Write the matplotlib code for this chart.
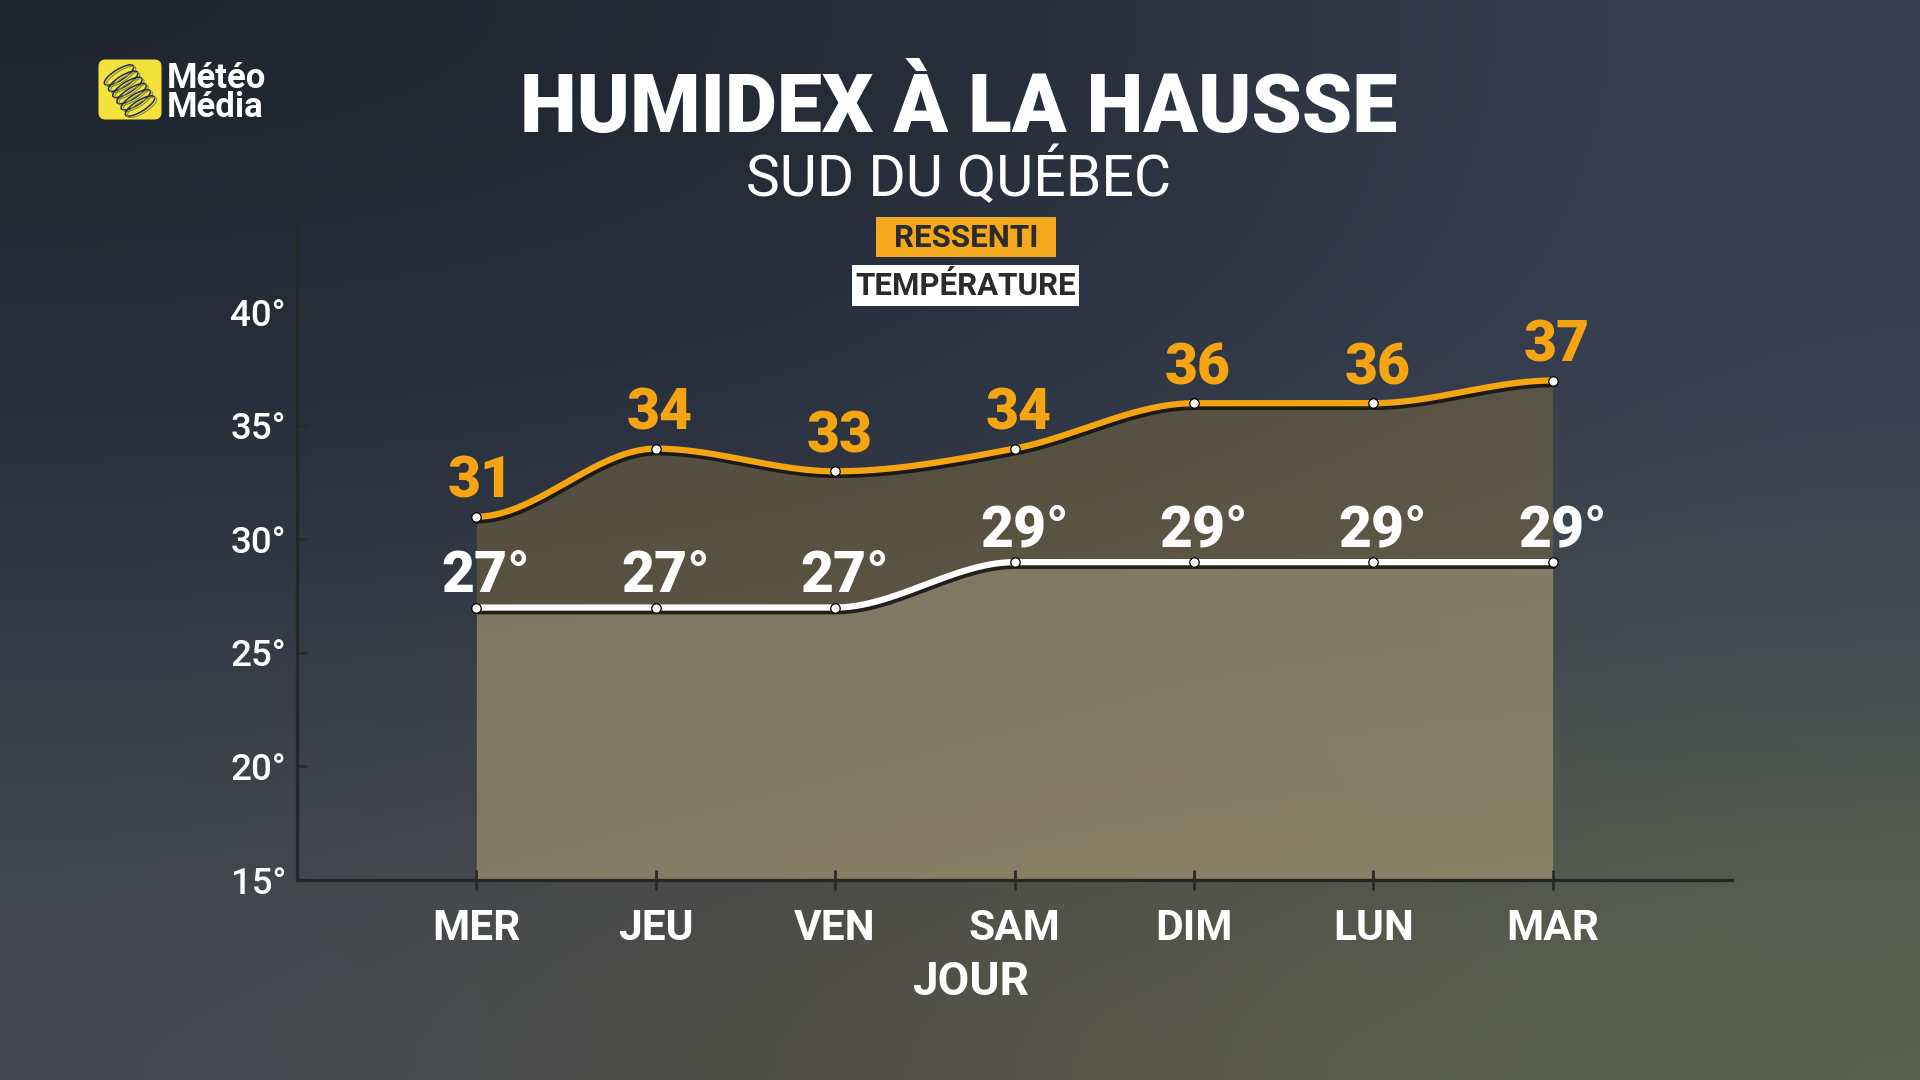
import numpy as np
import matplotlib
matplotlib.use("Agg")
import matplotlib.pyplot as plt
import matplotlib.patheffects as pe
from matplotlib.patches import FancyBboxPatch, Ellipse, Rectangle
from matplotlib.colors import to_rgb

plt.rcParams['font.family'] = ['Roboto', 'DejaVu Sans']

# ---------------- data ----------------
days = ["MER", "JEU", "VEN", "SAM", "DIM", "LUN", "MAR"]
ressenti = [31, 34, 33, 34, 36, 36, 37]
temperature = [27, 27, 27, 29, 29, 29, 29]
y_ticks = [15, 20, 25, 30, 35, 40]
y_tick_labels = ["15°", "20°", "25°", "30°", "35°", "40°"]
title = "HUMIDEX À LA HAUSSE"
subtitle = "SUD DU QUÉBEC"
legend_labels = ["RESSENTI", "TEMPÉRATURE"]
x_label = "JOUR"
brand = "Météo\nMédia"

ORANGE = "#f5a511"
W, H = 1920, 1080


def mono_slopes(y):
    y = np.asarray(y, float)
    n = len(y)
    t = np.zeros(n)
    for i in range(1, n - 1):
        s0 = y[i] - y[i - 1]
        s1 = y[i + 1] - y[i]
        p = (s0 + s1) / 2
        t[i] = (np.sign(s0) + np.sign(s1)) * min(abs(s0), abs(s1), 0.5 * abs(p))
    return t


def smooth(y, per=60):
    y = np.asarray(y, float)
    t = mono_slopes(y)
    xs, ys = [], []
    for i in range(len(y) - 1):
        u = np.linspace(0, 1, per, endpoint=(i == len(y) - 2))
        h00 = 2 * u**3 - 3 * u**2 + 1
        h10 = u**3 - 2 * u**2 + u
        h01 = -2 * u**3 + 3 * u**2
        h11 = u**3 - u**2
        xs.append(i + u)
        ys.append(h00 * y[i] + h10 * t[i] + h01 * y[i + 1] + h11 * t[i + 1])
    return np.concatenate(xs), np.concatenate(ys)


fig = plt.figure(figsize=(W / 100, H / 100), dpi=100)

# ---------------- background ----------------
grid = [["#20262f", "#242a36", "#384050"],
        ["#2c3444", "#303848", "#3a4354"],
        ["#464a50", "#575345", "#5c624e"]]
bg = np.array([[to_rgb(c) for c in row] for row in grid])
bgax = fig.add_axes([0, 0, 1, 1], zorder=-10)
bgax.imshow(bg, extent=[0, 1, 0, 1], aspect='auto', interpolation='bicubic')
bgax.set_xlim(0, 1); bgax.set_ylim(0, 1)
bgax.axis('off')

# ---------------- main axes ----------------
L, R, T, B = 297, 1732, 220, 880
ax = fig.add_axes([L / W, 1 - B / H, (R - L) / W, (B - T) / H])
ax.set_facecolor('none')
x = np.arange(len(days))
ax.set_xlim(-1, 7.0)
ax.set_ylim(15, 44.07)

xr, yr = smooth(ressenti)
xt, yt = smooth(temperature)

ax.fill_between(xr, 15, yr, color="#7d6a41", alpha=0.5, lw=0, zorder=1)
ax.fill_between(xt, 15, yt, color="#c8bea0", alpha=0.35, lw=0, zorder=1)

shadow = [pe.Stroke(linewidth=6.8, foreground="#111111", alpha=0.85, offset=(0.6, -1.5)), pe.Normal()]
ax.plot(xr, yr, color=ORANGE, lw=4.5, zorder=3, solid_capstyle='round', path_effects=shadow)
ax.plot(xt, yt, color="white", lw=4.5, zorder=3, solid_capstyle='round', path_effects=shadow)
ax.plot(x, ressenti, ls='none', marker='o', ms=6.8, mfc='white', mec='black', mew=0.9, zorder=4)
ax.plot(x, temperature, ls='none', marker='o', ms=6.8, mfc='white', mec='black', mew=0.9, zorder=4)

for xi, v in zip(x, ressenti):
    ax.annotate(f"{v}", (xi, v), xytext=(3, 13.5), textcoords='offset points',
                ha='center', va='baseline', fontsize=41, fontweight='heavy', color=ORANGE, zorder=5)
for xi, v in zip(x, temperature):
    ax.annotate(f"{v}°", (xi, v), xytext=(7, 11.5), textcoords='offset points',
                ha='center', va='baseline', fontsize=41, fontweight='heavy', color='white', zorder=5)

for s in ['top', 'right']:
    ax.spines[s].set_visible(False)
for s in ['left', 'bottom']:
    ax.spines[s].set_color('#262626')
    ax.spines[s].set_linewidth(2.4)

ax.set_yticks(y_ticks)
ax.set_yticklabels(y_tick_labels)
ax.set_xticks(x)
ax.set_xticklabels(days)
ax.tick_params(axis='y', direction='in', length=7, width=2, color='#2a2a2a',
               labelsize=26.5, labelcolor='white', pad=8)
ax.tick_params(axis='x', direction='inout', length=15, width=2, color='#2a2a2a',
               labelsize=30.5, labelcolor='white', pad=13)
for lab in ax.get_xticklabels():
    lab.set_fontweight('bold')
for lab in ax.get_yticklabels():
    lab.set_fontweight('medium')

fig.text(971 / W, 1 - 982 / H, x_label, ha='center', va='center', fontsize=33,
         fontweight='bold', color='white')

# ---------------- titles ----------------
fig.text(959 / W, 1 - 110 / H, title, ha='center', va='center', fontsize=58,
         fontweight='heavy', color='white')
fig.text(959 / W, 1 - 178 / H, subtitle, ha='center', va='center', fontsize=41,
         fontweight='normal', color='white')

# ---------------- legend boxes ----------------
fig.patches.append(Rectangle((876 / W, 1 - 257 / H), 180 / W, 40 / H, transform=fig.transFigure,
                             facecolor='#f4a81d', edgecolor='none', zorder=2))
fig.text(966 / W, 1 - 238 / H, legend_labels[0], ha='center', va='center', fontsize=22.5,
         fontweight='bold', color='#2b2b2b', zorder=3)
fig.patches.append(Rectangle((852 / W, 1 - 306 / H), 227 / W, 41 / H, transform=fig.transFigure,
                             facecolor='white', edgecolor='none', zorder=2))
fig.text(966 / W, 1 - 286 / H, legend_labels[1], ha='center', va='center', fontsize=22.5,
         fontweight='bold', color='#2b2b2b', zorder=3)

# ---------------- logo ----------------
lax = fig.add_axes([97 / W, 1 - 121 / H, 66 / W, 63 / H])
lax.set_xlim(0, 66); lax.set_ylim(0, 63); lax.axis('off')
lax.add_patch(FancyBboxPatch((1.5, 1.5), 63, 60, boxstyle="round,pad=0,rounding_size=7",
                             facecolor='#f5e23c', edgecolor='none'))
for k in range(6):
    cx = 22 + k * 4.2
    cy = 46 - k * 6.2
    lax.add_patch(Ellipse((cx, cy), 34, 11, angle=32, fill=False,
                          edgecolor='#1f2e5a', lw=1.1))
    lax.add_patch(Ellipse((cx + 2, cy - 1.5), 34, 11, angle=32, fill=False,
                          edgecolor='#8a8a3a', lw=0.8))
fig.text(167 / W, 1 - 117 / H, brand, ha='left', va='baseline', fontsize=25,
         fontweight='bold', color='white', linespacing=0.86)

fig.savefig("out.png", dpi=100)
